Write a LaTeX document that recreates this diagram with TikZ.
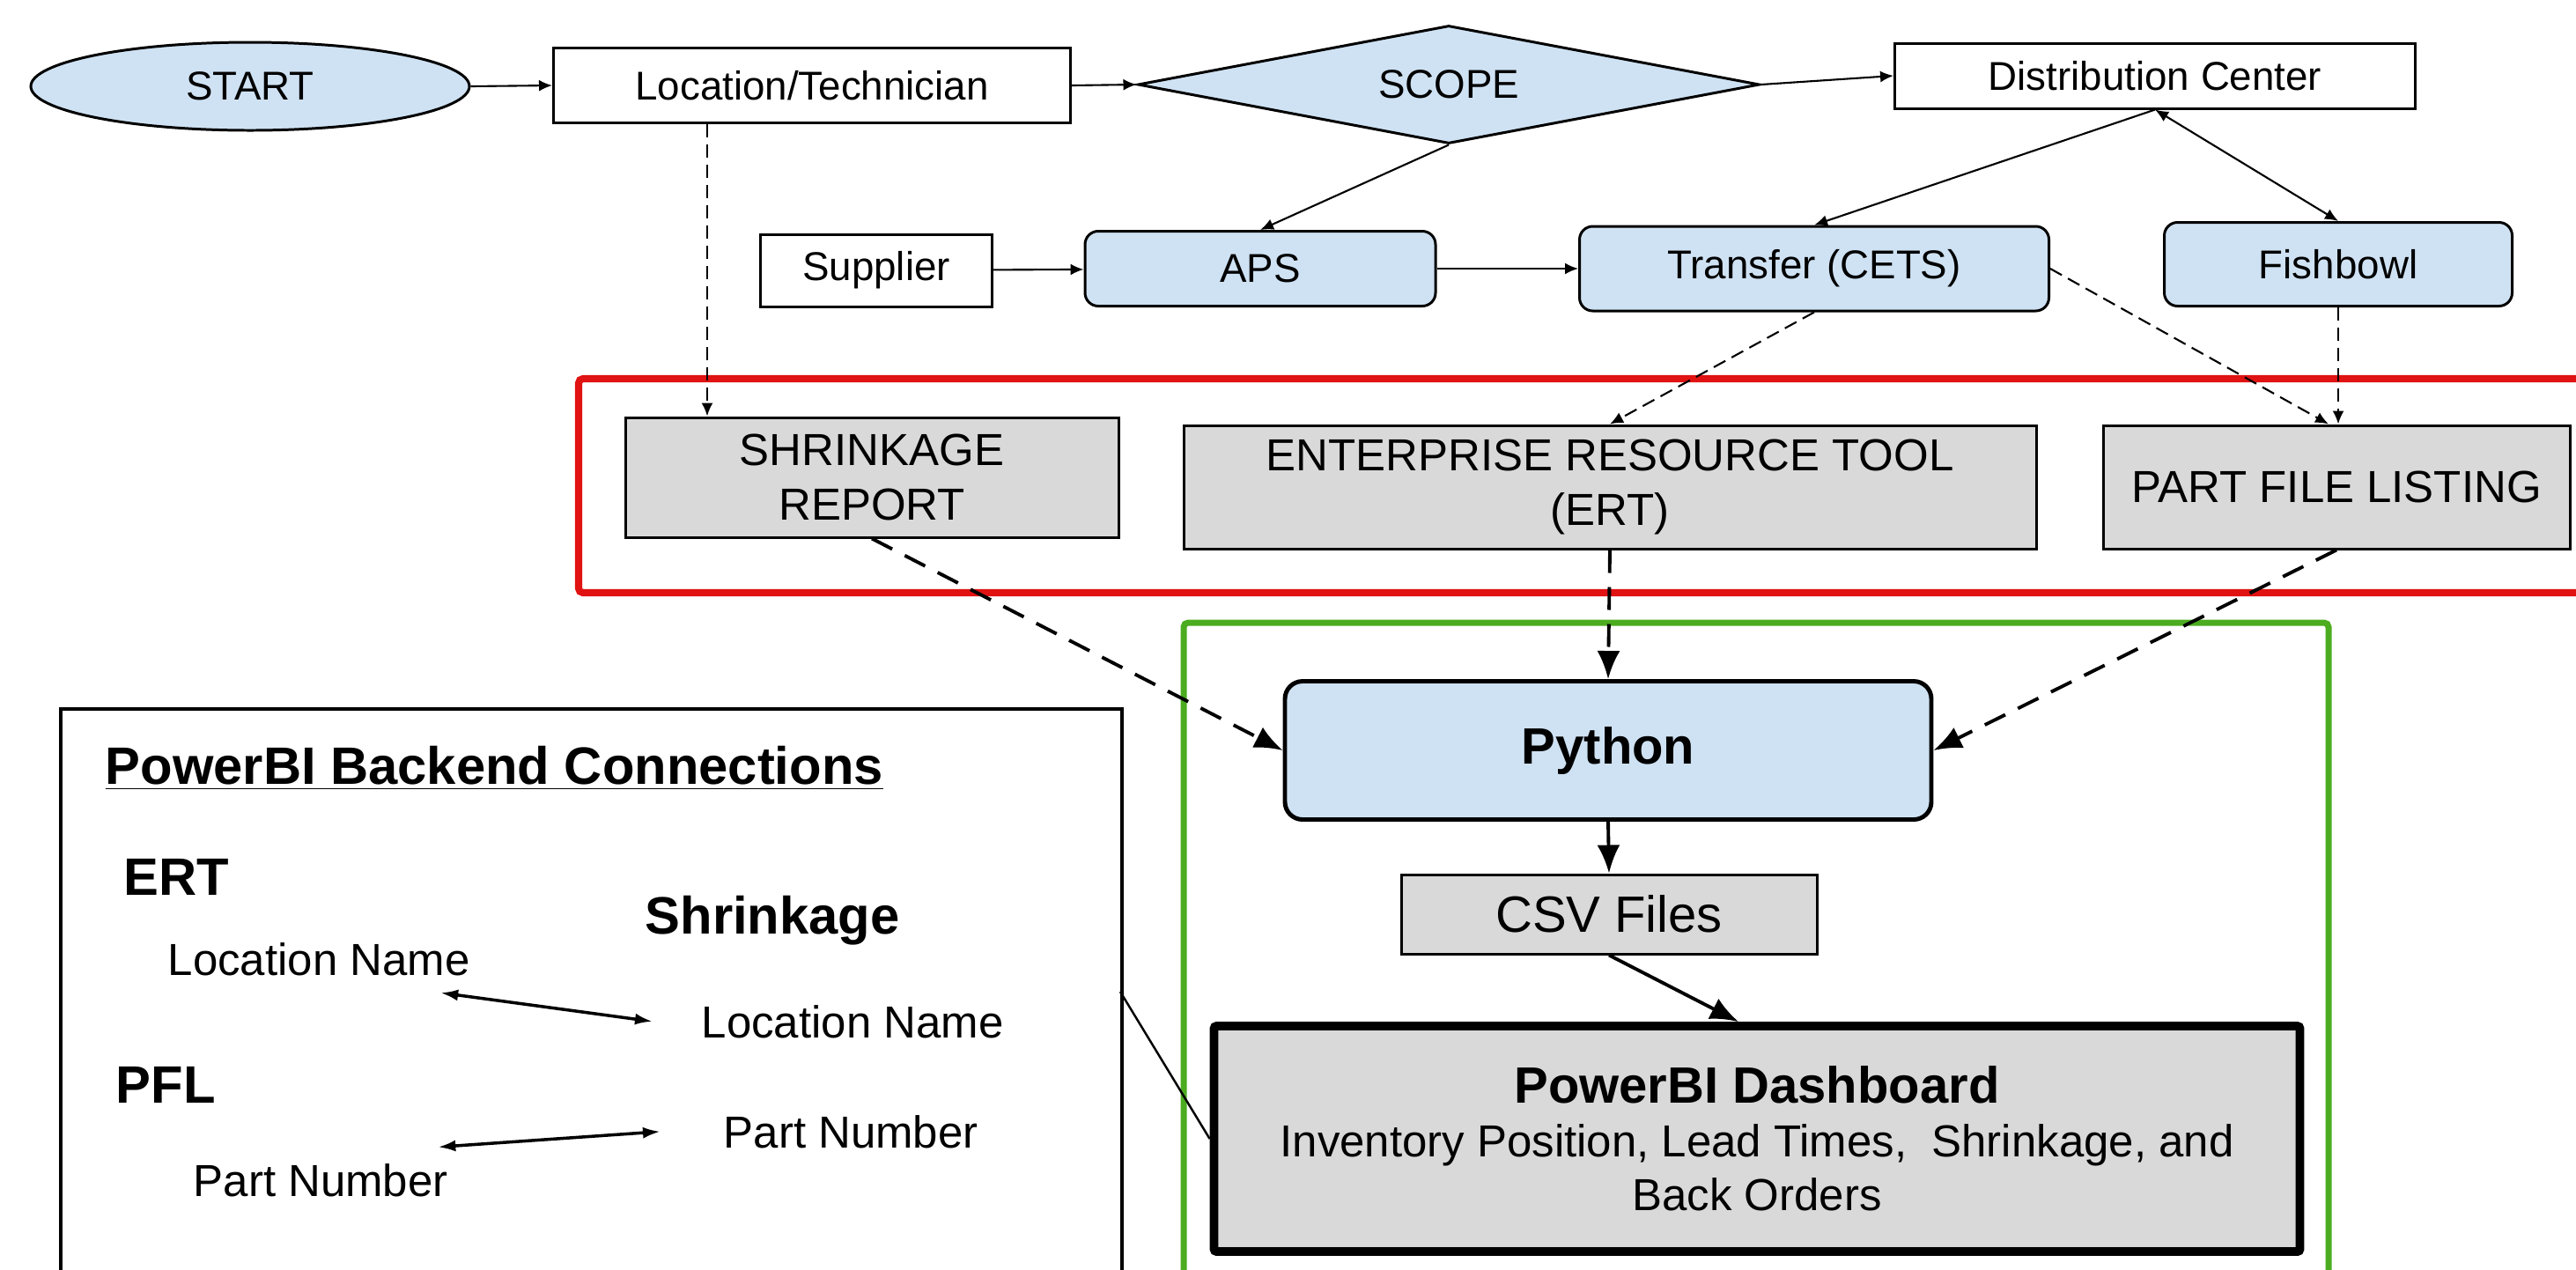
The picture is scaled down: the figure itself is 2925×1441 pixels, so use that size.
\documentclass[tikz,border=0pt]{standalone}
\usepackage{fontspec}
\setmainfont{Liberation Sans}
\usetikzlibrary{shapes.geometric,arrows.meta}
\definecolor{flowblue}{RGB}{207,226,243}
\definecolor{flowgray}{RGB}{217,217,217}
\definecolor{framered}{RGB}{224,18,18}
\definecolor{framegreen}{RGB}{76,172,32}
\tikzset{
  plainbox/.style={draw, line width=0.85pt, fill=white, inner sep=0pt, font=\fontsize{13}{15.6}\selectfont},
  bluebox/.style={plainbox, fill=flowblue, rounded corners=1.5mm},
  sourcebox/.style={draw, line width=0.85pt, fill=flowgray, align=center, inner sep=0pt, font=\fontsize{14.5}{17.4}\selectfont},
  thinflow/.style={line width=0.6pt, -{Latex[length=1.5mm,width=1.3mm]}},
  thinboth/.style={line width=0.6pt, {Latex[length=1.5mm,width=1.3mm]}-{Latex[length=1.5mm,width=1.3mm]}},
  thindash/.style={thinflow, dash pattern=on 1.5mm off 0.8mm},
  bigflow/.style={line width=1.1pt, -{Latex[length=3.2mm,width=2.6mm]}},
  bigdash/.style={bigflow, dash pattern=on 2.6mm off 1.6mm},
  keytext/.style={inner sep=0pt, anchor=base west, font=\fontsize{14.5}{17}\selectfont},
  keyhead/.style={inner sep=0pt, anchor=base west, font=\fontsize{17}{20}\selectfont\bfseries},
  keylink/.style={line width=1pt, {Latex[length=2mm,width=1.3mm]}-{Latex[length=2mm,width=1.3mm]}}
}

\begin{document}
\begin{tikzpicture}[x=0.1mm, y=-0.1mm]
\useasboundingbox (0,0) rectangle (2925,1441);

\node[ellipse, draw, line width=0.85pt, fill=flowblue, inner sep=0pt, minimum width=49.8mm, minimum height=10mm, font=\fontsize{13}{15.6}\selectfont] (start) at (284,98) {START};
\node[plainbox, minimum width=58.7mm, minimum height=8.5mm] (loctech) at (922,97) {Location/Technician};
\node[diamond, aspect=5.3, draw, line width=0.85pt, fill=flowblue, inner sep=0pt, minimum width=70.6mm, minimum height=13.4mm, font=\fontsize{13}{15.6}\selectfont] (scope) at (1645,96) {SCOPE};
\node[plainbox, minimum width=59.1mm, minimum height=7.4mm] (distctr) at (2447,86) {Distribution Center};
\node[plainbox, minimum width=26.3mm, minimum height=8.2mm] (supplier) at (995,307) {Supplier};
\node[bluebox, minimum width=39.8mm, minimum height=8.5mm] (aps) at (1431,305) {APS};
\node[bluebox, minimum width=53.3mm, minimum height=9.6mm] (transfer) at (2060,305) {Transfer (CETS)};
\node[bluebox, minimum width=39.5mm, minimum height=9.5mm] (fishbowl) at (2655,300) {Fishbowl};

\draw[framered, line width=2.3pt, rounded corners=0.5mm] (657,430) rectangle (2990,673);
\node[sourcebox, minimum width=56mm, minimum height=13.6mm] (shrink) at (990,542) {SHRINKAGE\\REPORT};
\node[sourcebox, minimum width=96.8mm, minimum height=14mm] (ert) at (1828,553) {ENTERPRISE RESOURCE TOOL\\(ERT)};
\node[sourcebox, minimum width=53mm, minimum height=14mm] (pfl) at (2653,553) {PART FILE LISTING};

\draw[framegreen, line width=2pt, rounded corners=0.5mm] (1344,707) rectangle (2644,1490);
\node[draw, line width=1.4pt, fill=flowblue, rounded corners=2mm, minimum width=73.4mm, minimum height=15.7mm, font=\fontsize{16.5}{20}\selectfont\bfseries] (python) at (1826,852) {Python};
\node[sourcebox, minimum width=47.2mm, minimum height=9mm, font=\fontsize{16.5}{20}\selectfont] (csv) at (1827,1038) {CSV Files};
\node[sourcebox, line width=2.8pt, rounded corners=0.3mm, minimum width=123.3mm, minimum height=25.6mm] (dashboard) at (1995,1293) {{\fontsize{16.5}{20}\selectfont\bfseries PowerBI Dashboard}\\Inventory Position, Lead Times,~~Shrinkage, and\\Back Orders};

\node[draw, line width=1pt, anchor=north west, minimum width=120.5mm, minimum height=72mm] (legend) at (67,803) {};
\node[keyhead] (keytitle) at (119,890) {\underline{PowerBI Backend Connections}};
\node[keyhead] (keyert) at (140,1016) {ERT};
\node[keyhead] (keyshrink) at (732,1060) {Shrinkage};
\node[keytext] (locA) at (190,1107) {Location Name};
\node[keytext] (locB) at (796,1178) {Location Name};
\node[keyhead] (keypfl) at (131,1252) {PFL};
\node[keytext] (partB) at (821,1303) {Part Number};
\node[keytext] (partA) at (219,1358) {Part Number};
\coordinate (legtap) at (1272,1126);

\draw[thinflow] (start.east) -- (loctech.west);
\draw[thinflow] (loctech.east) -- (scope.west);
\draw[thinflow] (scope.east) -- (distctr.west);
\draw[thinflow] (scope.south) -- (aps.north);
\draw[thinflow] (distctr.south) -- (transfer.north);
\draw[thinboth] (distctr.south) -- (fishbowl.north);
\draw[thinflow] (supplier) -- (aps);
\draw[thinflow] (aps) -- (transfer);
\draw[thindash] ([xshift=-11.9mm]loctech.south) -- ([xshift=-11.9mm]loctech.south |- shrink.north);
\draw[thindash] (transfer.south) -- (ert.north);
\draw[thindash] (transfer.east) -- ([xshift=-0.9mm]pfl.north);
\draw[thindash] (fishbowl.south) -- (fishbowl.south |- pfl.north);
\draw[bigdash] (shrink.south) -- (python.west);
\draw[bigdash] (ert.south) -- (python.north);
\draw[bigdash] (pfl.south) -- (python.east);
\draw[bigflow] (python.south) -- (csv.north);
\draw[bigflow] (csv.south) -- ([xshift=-2.1mm]dashboard.north);
\draw[line width=0.7pt] (legtap) -- (dashboard.west);
\draw[keylink] ([xshift=-3.4mm,yshift=-1.9mm]locA.south east) -- ([xshift=-5.5mm]locB.west);
\draw[keylink] ([xshift=-1.2mm,yshift=1.8mm]partA.north east) -- ([xshift=-7.1mm]partB.west);
\end{tikzpicture}
\end{document}
